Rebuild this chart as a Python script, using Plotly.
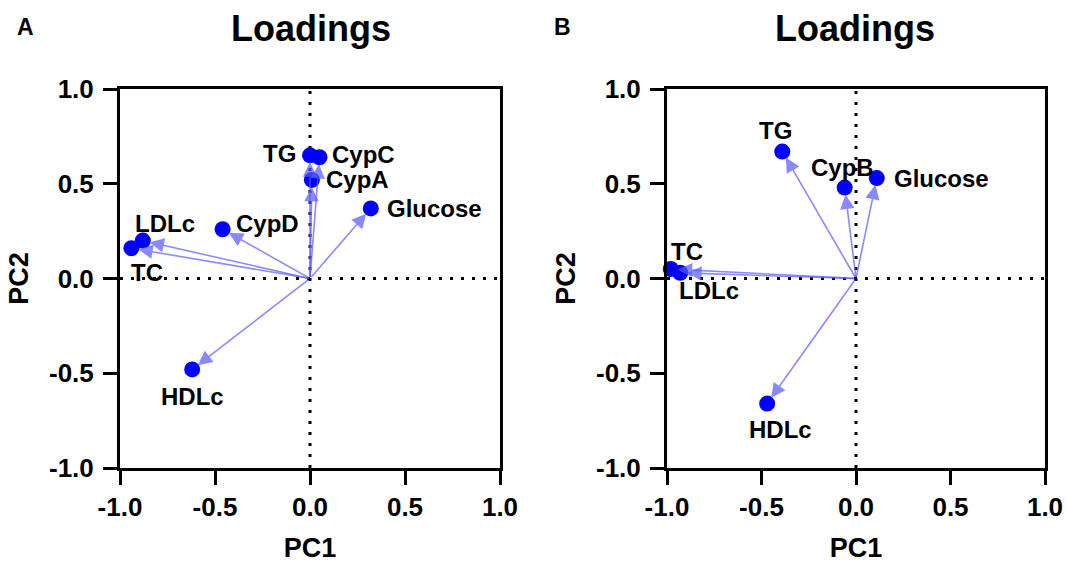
import plotly.graph_objects as go

# ---------------- data ----------------
labels_a = ["TG", "CypC", "CypA", "Glucose", "CypD", "LDLc", "TC", "HDLc"]
pc1_a = [0.00, 0.05, 0.01, 0.32, -0.46, -0.88, -0.94, -0.62]
pc2_a = [0.65, 0.64, 0.52, 0.37, 0.26, 0.20, 0.16, -0.48]

labels_b = ["TG", "CypB", "Glucose", "TC", "LDLc", "HDLc"]
pc1_b = [-0.39, -0.06, 0.11, -0.98, -0.93, -0.47]
pc2_b = [0.67, 0.48, 0.53, 0.05, 0.03, -0.66]

tick_vals = [-1.0, -0.5, 0.0, 0.5, 1.0]
tick_text = ["-1.0", "-0.5", "0.0", "0.5", "1.0"]
panel_letters = ["A", "B"]
panel_title = "Loadings"
x_title = "PC1"
y_title = "PC2"

# label placement (pixel offsets: xanchor, xshift, yshift)
label_pos_a = [("right", -12, 2), ("left", 10, 3), ("left", 12, 0), ("left", 14, 0),
               ("left", 11, 6), ("left", -10, 17), ("left", -2, -24), ("center", 0, -27)]
label_pos_b = [("center", -7, 21), ("center", -2, 20), ("left", 15, 0),
               ("left", -2, 18), ("left", -3, -18), ("center", 13, -26)]

FONT = "Liberation Sans, Arial, sans-serif"
BLUE = "#0000ff"
ARROW = "rgba(90,90,255,0.7)"

W, H = 1067, 563

fig = go.Figure()

panels = [
    (labels_a, pc1_a, pc2_a, label_pos_a, "x", "y"),
    (labels_b, pc1_b, pc2_b, label_pos_b, "x2", "y2"),
]

annotations = []
shapes = []
for labels, xs, ys, lpos, xa, ya in panels:
    shapes.append(dict(type="line", xref=xa, yref=ya, x0=-1, x1=1, y0=0, y1=0,
                       line=dict(color="black", width=3, dash="3px,8px"), layer="below"))
    shapes.append(dict(type="line", xref=xa, yref=ya, x0=0, x1=0, y0=-1, y1=1,
                       line=dict(color="black", width=3, dash="3px,8px"), layer="below"))
    fig.add_trace(go.Scatter(x=xs, y=ys, mode="markers", xaxis=xa, yaxis=ya,
                             marker=dict(color=BLUE, size=16), cliponaxis=False,
                             showlegend=False, hoverinfo="text", text=labels))
    for lab, x, y, (anc, dx, dy) in zip(labels, xs, ys, lpos):
        annotations.append(dict(x=x, y=y, xref=xa, yref=ya, ax=0, ay=0,
                                axref=xa, ayref=ya, text="", showarrow=True,
                                arrowhead=2, arrowsize=1.8, arrowwidth=1.6,
                                arrowcolor=ARROW, standoff=7))
        annotations.append(dict(x=x, y=y, xref=xa, yref=ya, text=lab, showarrow=False,
                                xanchor=anc, yanchor="middle", xshift=dx, yshift=dy,
                                font=dict(family=FONT, size=24, color="black", weight="bold")))

for letter, lx, cx in zip(panel_letters, [25 / W, 562 / W], [311 / W, 855 / W]):
    annotations.append(dict(x=lx, y=1 - 27 / H, xref="paper", yref="paper", text=letter,
                            showarrow=False, xanchor="center", yanchor="middle",
                            font=dict(family=FONT, size=23, color="black", weight="bold")))
    annotations.append(dict(x=cx, y=1 - 7 / H, xref="paper", yref="paper", text=panel_title,
                            showarrow=False, xanchor="center", yanchor="top", borderpad=0,
                            font=dict(family=FONT, size=36, color="black", weight="bold")))

axis_common = dict(range=[-1, 1], tickvals=tick_vals, ticktext=tick_text,
                   showline=True, linewidth=3, linecolor="black", mirror=True,
                   ticks="outside", ticklen=14, tickwidth=3, tickcolor="black",
                   showgrid=False, zeroline=False, automargin=False,
                   tickfont=dict(family=FONT, size=26, color="black", weight="bold"))

title_font = dict(family=FONT, size=27, color="black", weight="bold")
ydom = [1 - 468 / H, 1 - 89 / H]
fig.update_layout(
    width=W, height=H,
    margin=dict(l=0, r=0, t=0, b=0),
    paper_bgcolor="white", plot_bgcolor="white",
    xaxis=dict(domain=[120 / W, 500 / W], anchor="y",
               title=dict(text=x_title, standoff=23, font=title_font), **axis_common),
    yaxis=dict(domain=ydom, anchor="x", ticklabelstandoff=4,
               title=dict(text=y_title, standoff=13, font=title_font), **axis_common),
    xaxis2=dict(domain=[667 / W, 1045 / W], anchor="y2",
                title=dict(text=x_title, standoff=23, font=title_font), **axis_common),
    yaxis2=dict(domain=ydom, anchor="x2", ticklabelstandoff=4,
                title=dict(text=y_title, standoff=13, font=title_font), **axis_common),
    annotations=annotations,
    shapes=shapes,
)

fig.write_html("out.html", config={"displayModeBar": False},
               post_script="document.body.style.margin='0';document.body.style.overflow='hidden';")
